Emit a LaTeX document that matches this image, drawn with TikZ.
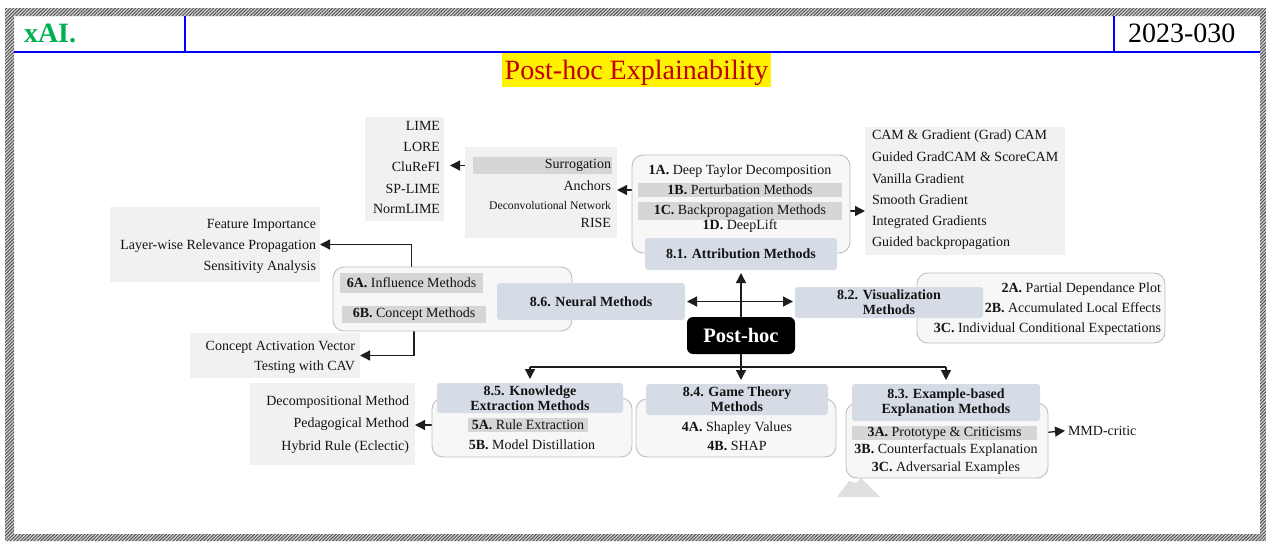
\documentclass[tikz,border=0pt]{standalone}
\usepackage{fontspec}
\setmainfont{Liberation Serif}
\usetikzlibrary{arrows.meta,patterns.meta,backgrounds,fit}

\definecolor{brandgreen}{RGB}{0,176,80}
\definecolor{titlered}{RGB}{192,0,0}
\definecolor{listgray}{RGB}{241,241,241}
\definecolor{bargray}{RGB}{214,214,214}
\definecolor{headblue}{RGB}{214,220,229}
\definecolor{grpfill}{RGB}{247,247,247}
\definecolor{grpline}{RGB}{190,190,190}
\definecolor{inkcol}{RGB}{20,20,20}
\definecolor{arrcol}{RGB}{30,30,30}

\newcommand\fsz[1]{\fontsize{#1}{#1}\selectfont}

\tikzset{
  every node/.style={inner sep=0pt, outer sep=0pt, text=inkcol, font=\fsz{14}},
  listbox/.style={fill=listgray},
  barbox/.style={fill=bargray},
  headbox/.style={fill=headblue, rounded corners=3pt, align=center,
                  font=\fontsize{14}{15}\selectfont\bfseries},
  groupbox/.style={fill=grpfill, draw=grpline, line width=0.9pt, rounded corners=11pt},
  rtxt/.style={anchor=mid east},
  ltxt/.style={anchor=mid west},
  ctxt/.style={anchor=mid},
  tip/.style={Triangle[length=10pt,width=10pt]},
  arr/.style={draw=arrcol, line width=1.3pt, -{Triangle[length=10pt,width=10pt]}},
  link/.style={draw=arrcol, line width=1.3pt},
}

\begin{document}
\begin{tikzpicture}[x=1pt,y=-1pt]
\useasboundingbox (0,0) rectangle (1266,541);

% hatched page frame
\fill[even odd rule, gray!30] (5,8) rectangle (1266,541) (14,16) rectangle (1260,534);
\fill[even odd rule, pattern={Lines[angle=45,distance=2.4pt,line width=1.1pt]}, pattern color=gray!70!black]
  (5,8) rectangle (1266,541) (14,16) rectangle (1260,534);

% header rules
\draw[blue, line width=2pt] (14,51.5) -- (1260,51.5);
\draw[blue, line width=2pt] (185,16) -- (185,51.5);
\draw[blue, line width=2pt] (1113.5,16) -- (1113.5,51.5);

\node[anchor=base west, font=\fontsize{28}{30}\selectfont\bfseries, text=brandgreen] (brand) at (24,42) {xAI.};
\node[anchor=base west, font=\fsz{28}, text=black] (docno) at (1128,42) {2023-030};

% title
\node[fit={(502,53) (771,87)}, fill=yellow] (titlebg) {};
\node[anchor=base, font=\fsz{28}, text=titlered] (title) at (636.5,79) {Post-hoc Explainability};

% ---------- containers and list panels ----------
\node[fit={(365,117) (444,221)}, listbox] (lst1) {};
\node[fit={(465,147) (617,238)}, listbox] (lst2) {};
\node[fit={(865,127) (1065,255)}, listbox] (lst3) {};
\node[fit={(110,207) (320,282)}, listbox] (lst4) {};
\node[fit={(190,333) (360,378)}, listbox] (lst5) {};
\node[fit={(250,383) (415,465)}, listbox] (lst6) {};

\node[fit={(632,155) (850,253)}, groupbox] (grpAttr) {};
\node[fit={(333,267) (572,331)}, groupbox] (grpNeu) {};
\node[fit={(917,273) (1165,343)}, groupbox] (grpVis) {};
\node[fit={(432,398) (632,457)}, groupbox] (grpKno) {};
\node[fit={(636,399) (836,457)}, groupbox] (grpGame) {};
\node[fit={(846,403) (1048,478)}, groupbox] (grpEx) {};

% ---------- highlighted rows ----------
\node[barbox, minimum width=139, minimum height=17, text width=137, align=right] (barSur) at (542.5,165.5) {Surrogation};
\node[barbox, minimum width=204, minimum height=14] (bar1B) at (740,190) {\textbf{1B.} Perturbation Methods};
\node[barbox, minimum width=204, minimum height=18] (bar1C) at (740,211) {\textbf{1C.} Backpropagation Methods};
\node[barbox, minimum width=143, minimum height=20] (bar6A) at (411.5,283) {\textbf{6A.} Influence Methods};
\node[barbox, minimum width=144, minimum height=17] (bar6B) at (414,314.5) {\textbf{6B.} Concept Methods};
\node[barbox, minimum width=120, minimum height=14] (bar5A) at (528,425) {\textbf{5A.} Rule Extraction};
\node[barbox, minimum width=185, minimum height=14] (bar3A) at (944.5,433) {\textbf{3A.} Prototype \& Criticisms};

% ---------- category heads ----------
\node[headbox, minimum width=192, minimum height=32] (a81) at (741,254) {8.1. Attribution Methods};
\node[headbox, minimum width=188, minimum height=37] (a86) at (591,301.5) {8.6. Neural Methods};
\node[headbox, minimum width=188, minimum height=31] (a82) at (889,302.5) {8.2. Visualization\\Methods};
\node[headbox, minimum width=186, minimum height=30] (a85) at (530,398) {8.5. Knowledge\\Extraction Methods};
\node[headbox, minimum width=182, minimum height=31] (a84) at (737,399.5) {8.4. Game Theory\\Methods};
\node[headbox, minimum width=188, minimum height=37] (a83) at (946,402.5) {8.3. Example-based\\Explanation Methods};

\node[fill=black, rounded corners=6pt, minimum width=108, minimum height=37,
      text=white, font=\fsz{20.5}\bfseries] (posthoc) at (741,335.5) {Post-hoc};

% ---------- texts ----------
\node[rtxt] (tLime) at (440,128) {LIME};
\node[rtxt] (tLore) at (440,149) {LORE};
\node[rtxt] (tClu) at (440,169) {CluReFI};
\node[rtxt] (tSpl) at (440,191) {SP-LIME};
\node[rtxt] (tNorm) at (440,211) {NormLIME};

\node[rtxt] (tAnch) at (611,188) {Anchors};
\node[rtxt, font=\fsz{11.7}] (tDeconv) at (611,207) {Deconvolutional Network};
\node[rtxt] (tRise) at (611,225) {RISE};

\node[ctxt] (t1A) at (740,172) {\textbf{1A.} Deep Taylor Decomposition};
\node[ctxt] (t1D) at (740,227.5) {\textbf{1D.} DeepLift};

\node[ltxt] (tCam) at (872,137) {CAM \& Gradient (Grad) CAM};
\node[ltxt] (tGgc) at (872,159) {Guided GradCAM \& ScoreCAM};
\node[ltxt] (tVan) at (872,181) {Vanilla Gradient};
\node[ltxt] (tSmo) at (872,202) {Smooth Gradient};
\node[ltxt] (tInt) at (872,223) {Integrated Gradients};
\node[ltxt] (tGbp) at (872,244) {Guided backpropagation};

\node[rtxt] (tFeat) at (316,226) {Feature Importance};
\node[rtxt] (tLrp) at (316,247) {Layer-wise Relevance Propagation};
\node[rtxt] (tSens) at (316,268) {Sensitivity Analysis};

\node[rtxt] (tCav) at (355,348) {Concept Activation Vector};
\node[rtxt] (tTcav) at (355,368) {Testing with CAV};

\node[rtxt] (t2A) at (1161,290) {\textbf{2A.} Partial Dependance Plot};
\node[rtxt] (t2B) at (1161,310) {\textbf{2B.} Accumulated Local Effects};
\node[rtxt] (t2C) at (1161,330) {\textbf{3C.} Individual Conditional Expectations};

\node[rtxt] (tDec) at (409,403) {Decompositional Method};
\node[rtxt] (tPed) at (409,425) {Pedagogical Method};
\node[rtxt] (tHyb) at (409,448) {Hybrid Rule (Eclectic)};
\node[ctxt] (t5B) at (532,447) {\textbf{5B.} Model Distillation};

\node[ctxt] (t4A) at (737,429) {\textbf{4A.} Shapley Values};
\node[ctxt] (t4B) at (737,448) {\textbf{4B.} SHAP};

\node[ctxt] (t3B) at (946,451) {\textbf{3B.} Counterfactuals Explanation};
\node[ctxt] (t3C) at (946,469) {\textbf{3C.} Adversarial Examples};
\node[ltxt] (mmd) at (1068,433) {MMD-critic};

% small grey mark under the example-based group
\fill[gray!25] (837,497) -- (849,481) -- (856,483) -- (861,478) -- (880,497) -- cycle;

% ---------- connectors ----------
\coordinate (bus) at (0,367);
\begin{scope}[on background layer]
  \draw[arr] ([xshift=-3pt]barSur.west) -- ([xshift=6pt]lst1.east |- barSur.west);
  \draw[arr] (grpAttr.west |- bar1B.west) -- (lst2.east |- bar1B.west);
  \draw[arr] ([xshift=3pt]bar1C.east) -- (lst3.west |- bar1C.east);
  \draw[arr] (bar6A.north) |- (lst4.east);
  \draw[arr] (bar6B.south) |- (lst5.east);
  \draw[arr, shorten >=3pt] (a81.south |- bus) -- (a81.south);
  \draw[arr, {Triangle[length=10pt,width=10pt]}-{Triangle[length=10pt,width=10pt]}, shorten <=2pt, shorten >=2pt]
    (a86.east) -- (a86.east -| a82.west);
  \draw[link] (a85.north |- bus) -- (a83.north |- bus);
  \draw[arr, shorten >=4pt] (a85.north |- bus) -- (a85.north);
  \draw[arr, shorten >=4pt] (a81.south |- bus) -- (a81.south |- a84.north);
  \draw[arr, shorten >=4pt] (a83.north |- bus) -- (a83.north);
  \draw[arr] (bar5A.west) -- (lst6.east |- bar5A.west);
  \draw[arr] ([xshift=3pt]bar3A.east) -- ([xshift=-3pt]mmd.west);
\end{scope}
\end{tikzpicture}
\end{document}
